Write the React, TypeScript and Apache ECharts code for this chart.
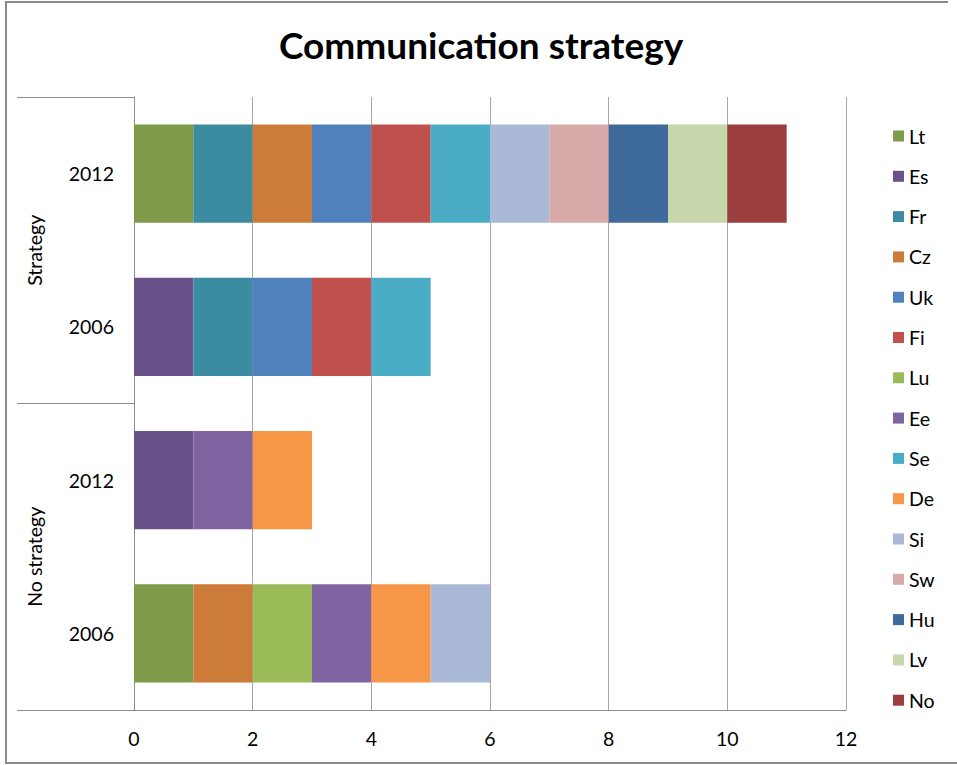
import React, { useEffect, useRef } from "react";
import * as echarts from "echarts";

// Categories bottom to top
const years = ["2006", "2012", "2006", "2012"];
const groups = ["No strategy", "Strategy"];
const title = "Communication strategy";
const xTicks = { min: 0, max: 12, interval: 2 };

// Series (each country counted once per category it belongs to)
const names = ["Lt", "Es", "Fr", "Cz", "Uk", "Fi", "Lu", "Ee", "Se", "De", "Si", "Sw", "Hu", "Lv", "No"];
const lt = [1, 0, 0, 1];
const es = [0, 1, 1, 0];
const fr = [0, 0, 1, 1];
const cz = [1, 0, 0, 1];
const uk = [0, 0, 1, 1];
const fi = [0, 0, 1, 1];
const lu = [1, 0, 0, 0];
const ee = [1, 1, 0, 0];
const se = [0, 0, 1, 1];
const de = [1, 1, 0, 0];
const si = [1, 0, 0, 1];
const sw = [0, 0, 0, 1];
const hu = [0, 0, 0, 1];
const lv = [0, 0, 0, 1];
const no = [0, 0, 0, 1];
const values = [lt, es, fr, cz, uk, fi, lu, ee, se, de, si, sw, hu, lv, no];

const colors = [
  "#7F9A48", "#69528A", "#3B8BA1", "#CD7B38", "#4F81BD", "#C0504D", "#9BBB59",
  "#8064A2", "#4BACC6", "#F79646", "#AAB9D8", "#D9AAAA", "#3F6A9C", "#C5D7AB", "#9C3E3D",
];

const FONT = "Lato";

export default function App() {
  const ref = useRef<HTMLDivElement>(null);
  useEffect(() => {
    if (!ref.current) return;
    const chart = echarts.init(ref.current, null, { renderer: "svg" });
    chart.setOption({
      animation: false,
      backgroundColor: "#fff",
      textStyle: { fontFamily: FONT },
      title: {
        text: title,
        left: 274,
        top: 21,
        textStyle: { fontFamily: FONT, fontSize: 37, fontWeight: "bold", color: "#000" },
      },
      legend: {
        orient: "vertical",
        left: 893,
        top: 126,
        padding: 0,
        itemWidth: 11,
        itemHeight: 11,
        itemGap: 20.3,
        itemTextGap: 7,
        icon: "rect",
        data: names,
        textStyle: { fontFamily: FONT, fontSize: 19.5, lineHeight: 20, color: "#000" },
      },
      grid: { left: 134, right: 111, top: 97, bottom: 55, containLabel: false },
      xAxis: {
        type: "value",
        min: xTicks.min,
        max: xTicks.max,
        interval: xTicks.interval,
        axisLine: { show: true, lineStyle: { color: "#8C8C8C", width: 1 } },
        axisTick: { show: false },
        splitLine: { show: true, lineStyle: { color: "#A6A6A6", width: 1 } },
        axisLabel: { fontFamily: FONT, fontSize: 19.5, color: "#000", margin: 18 },
      },
      yAxis: [
        {
          type: "category",
          data: years,
          axisLine: { show: true, lineStyle: { color: "#8C8C8C", width: 1 } },
          axisTick: { show: false },
          axisLabel: { fontFamily: FONT, fontSize: 19.5, color: "#000", margin: 20 },
        },
        {
          type: "category",
          data: groups,
          position: "left",
          axisLine: { show: false },
          axisTick: { show: true, length: 117, lineStyle: { color: "#8C8C8C", width: 1 } },
          axisLabel: { fontFamily: FONT, fontSize: 19.5, color: "#000", rotate: 90, margin: 90 },
          splitLine: { show: false },
        },
      ],
      series: names.map((n, i) => ({
        name: n,
        type: "bar",
        stack: "total",
        yAxisIndex: 0,
        barCategoryGap: "36%",
        data: values[i],
        itemStyle: { color: colors[i] },
      })),
      graphic: [
        {
          type: "polyline",
          shape: { points: [[948, 2], [6, 2], [6, 763], [957, 763]] },
          style: { stroke: "#8A8A8A", lineWidth: 2, fill: "none" },
          silent: true,
        },
      ],
    });
    return () => chart.dispose();
  }, []);
  return (
    <div
      ref={ref}
      style={{ position: "fixed", left: 0, top: 0, width: 957, height: 765 }}
    />
  );
}
